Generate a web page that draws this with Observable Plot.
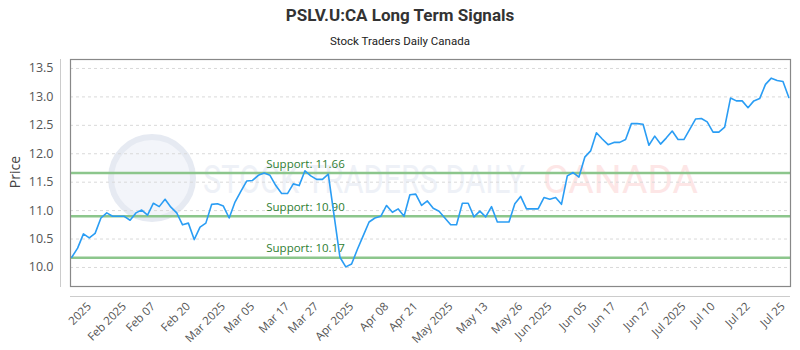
<!DOCTYPE html>
<html><head><meta charset="utf-8">
<script src="https://cdn.jsdelivr.net/npm/d3@7"></script>
<script src="https://cdn.jsdelivr.net/npm/@observablehq/plot@0.6"></script>
<style>body{margin:0;background:#fff;}</style>
</head><body><div id="chart"></div>
<script>
const title = "PSLV.U:CA Long Term Signals";
const subtitle = "Stock Traders Daily Canada";
const prices = [
  10.18,10.34,10.59,10.52,10.60,10.87,10.96,10.90,10.90,10.90,
  10.83,10.96,11.01,10.92,11.13,11.07,11.20,11.06,10.96,10.75,
  10.78,10.49,10.71,10.78,11.11,11.12,11.08,10.87,11.15,11.34,
  11.52,11.53,11.62,11.66,11.62,11.44,11.30,11.30,11.47,11.44,
  11.70,11.61,11.55,11.55,11.64,10.91,10.18,10.01,10.06,10.32,
  10.56,10.80,10.87,10.90,11.09,10.97,11.03,10.90,11.28,11.29,
  11.09,11.17,11.04,10.99,10.87,10.75,10.75,11.13,11.13,10.89,
  10.99,10.89,11.07,10.80,10.80,10.80,11.12,11.25,11.03,11.03,
  11.03,11.23,11.20,11.23,11.11,11.61,11.67,11.59,11.94,12.05,
  12.37,12.26,12.16,12.20,12.20,12.25,12.53,12.53,12.52,12.15,
  12.31,12.17,12.28,12.40,12.25,12.25,12.43,12.61,12.62,12.56,
  12.38,12.38,12.47,12.98,12.93,12.93,12.81,12.93,12.97,13.22,
  13.33,13.29,13.27,12.99
];
const tickIndex = [3,9,14,20,26,31,37,42,48,54,59,65,71,77,82,88,93,99,105,110,116,122];
const tickLabels = ["2025","Feb 2025","Feb 07","Feb 20","Mar 2025","Mar 05","Mar 17","Mar 27","Apr 2025","Apr 08","Apr 21","May 2025","May 13","May 26","Jun 2025","Jun 05","Jun 17","Jun 27","Jul 2025","Jul 10","Jul 22","Jul 25"];
const yTicks = [10.0,10.5,11.0,11.5,12.0,12.5,13.0,13.5];
const supportLevels = [11.66, 10.90, 10.17];

const data = prices.map((p, i) => ({i, p}));
const supports = supportLevels.map(v => ({v, label: `Support: ${v.toFixed(2)}`}));
const labelMap = new Map(tickIndex.map((t, k) => [t, tickLabels[k]]));

const chart = Plot.plot({
  width: 800, height: 350,
  marginLeft: 70, marginRight: 10, marginTop: 59, marginBottom: 64,
  style: {fontFamily: "'Open Sans', sans-serif", fontSize: "12px", color: "#555", background: "#fff"},
  x: {type: "linear", domain: [-0.22, 123.29]},
  y: {domain: [9.665, 13.658]},
  marks: [
    Plot.gridY(yTicks, {stroke: "#d9d9d9", strokeOpacity: 1, strokeDasharray: "3,3"}),
    Plot.ruleY(supports, {y: "v", stroke: "#8cc68c", strokeWidth: 2.5}),
    Plot.text(supports, {y: "v", frameAnchor: "left", dx: 235, dy: -9, text: "label", fill: "#2e7d32", fontSize: 11.5, textAnchor: "middle"}),
    Plot.line(data, {x: "i", y: "p", stroke: "#2a9df4", strokeWidth: 1.6}),
    Plot.frame({stroke: "#888", strokeWidth: 1.2}),
    Plot.axisY({ticks: yTicks, tickFormat: d => d.toFixed(1), tickSize: 0, tickPadding: 17, label: null, fill: "#555", fontSize: 12.5}),
    Plot.axisX({ticks: tickIndex, tickFormat: d => labelMap.get(d), tickRotate: -45, tickSize: 0, tickPadding: 18, label: null, fill: "#555", fontSize: 11.5})
  ]
});
document.getElementById("chart").appendChild(chart);

const svg = d3.select(chart);
// watermark underneath
const wm = svg.insert("g", ":first-child").attr("pointer-events", "none").attr("text-anchor", "start");
wm.append("circle").attr("cx", 152).attr("cy", 178).attr("r", 41)
  .attr("fill", "#f3f5fa").attr("stroke", "#e6eaf2").attr("stroke-width", 6);
wm.append("text").attr("x", 203).attr("y", 193).attr("textLength", 322).attr("lengthAdjust", "spacingAndGlyphs")
  .attr("text-anchor", "start").attr("font-family", "Roboto, sans-serif").attr("font-size", 38).attr("fill", "#eef1f7").text("STOCK TRADERS DAILY");
wm.append("text").attr("x", 543).attr("y", 193).attr("textLength", 155).attr("lengthAdjust", "spacingAndGlyphs")
  .attr("text-anchor", "start").attr("font-family", "Roboto, sans-serif").attr("font-size", 38).attr("fill", "#fde6e6").text("CANADA");
// axis lines
svg.append("line").attr("x1", 60.5).attr("x2", 60.5).attr("y1", 59).attr("y2", 287).attr("stroke", "#ccc");
svg.append("line").attr("x1", 70).attr("x2", 790).attr("y1", 296.5).attr("y2", 296.5).attr("stroke", "#ccc");
// title & subtitle
svg.append("text").attr("x", 400).attr("y", 21).attr("text-anchor", "middle")
  .attr("font-family", "Roboto, sans-serif").attr("font-weight", "bold").attr("font-size", 17).attr("fill", "#333").text(title);
svg.append("text").attr("x", 400).attr("y", 45).attr("text-anchor", "middle")
  .attr("font-family", "Roboto, sans-serif").attr("font-size", 11.5).attr("fill", "#222").text(subtitle);
// y label
svg.append("text").attr("transform", "translate(20,172) rotate(-90)").attr("text-anchor", "middle")
  .attr("font-family", "'Open Sans', sans-serif").attr("font-size", 14).attr("fill", "#444").text("Price");
</script>
</body></html>
